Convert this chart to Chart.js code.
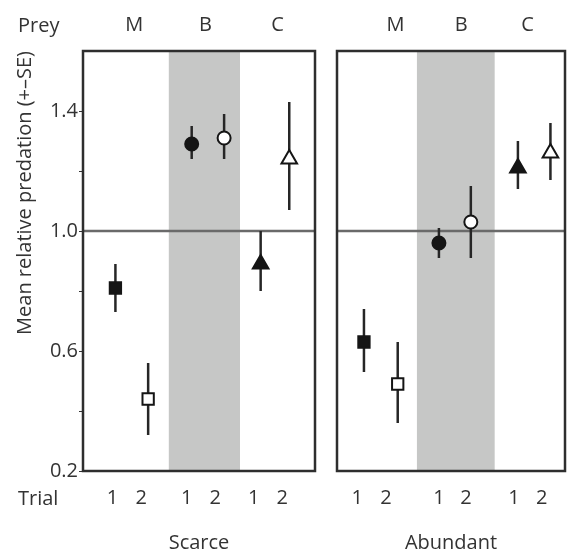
<!DOCTYPE html>
<html>
<head>
<meta charset="utf-8">
<script src="https://cdn.jsdelivr.net/npm/chart.js@4.4.1/dist/chart.umd.min.js"></script>
<style>
  body { margin: 0; width: 569px; height: 555px; overflow: hidden; background: #fff; position: relative; font-family: "Open Sans", sans-serif; }
  .panel { position: absolute; top: 0; height: 555px; }
  #left { left: 0; width: 326px; }
  #right { left: 326px; width: 250px; }
  .lab { position: absolute; font-size: 20px; color: #333; line-height: 24px; }
</style>
</head>
<body>
<div class="panel" id="left"><canvas id="scarce"></canvas></div>
<div class="panel" id="right"><canvas id="abundant"></canvas></div>
<div class="lab" style="left:18px; top:13px;">Prey</div>
<div class="lab" style="left:18px; top:486px;">Trial</div>

<script>
// prey groups and trials
const groups = ['M', 'B', 'C'];
const trials = ['1', '2', '1', '2', '1', '2'];

// scarce panel: mean and SE range
const scarceMean = [0.81, 0.44, 1.29, 1.31, 0.89, 1.24];
const scarceLow  = [0.73, 0.32, 1.24, 1.24, 0.80, 1.07];
const scarceHigh = [0.89, 0.56, 1.35, 1.39, 1.00, 1.43];

// abundant panel
const abundantMean = [0.63, 0.49, 0.96, 1.03, 1.21, 1.26];
const abundantLow  = [0.53, 0.36, 0.91, 0.91, 1.14, 1.17];
const abundantHigh = [0.74, 0.63, 1.01, 1.15, 1.30, 1.36];

// x axis values (trial slots) per panel
const scarceX = [1.02, 2.05, 3.42, 4.44, 5.59, 6.49];
const abundantX = [0.87, 1.96, 3.29, 4.32, 5.84, 6.89];
const scarceTrialTicks = [0.93, 1.83, 3.26, 4.16, 5.37, 6.27];
const abundantTrialTicks = [0.65, 1.58, 3.29, 4.16, 5.71, 6.61];
const scarceGroupTicks = [1.61, 3.85, 6.12];
const abundantGroupTicks = [1.89, 4.01, 6.15];
const scarceBand = [2.70, 4.94];
const abundantBand = [2.58, 5.09];

const yTicks = [0.2, 0.4, 0.6, 0.8, 1.0, 1.2, 1.4];
const yLabels = ['0.2', '', '0.6', '', '1.0', '', '1.4'];

const fillColors = ['#151515', '#fff', '#151515', '#fff', '#151515', '#fff'];
const shapes = ['rect', 'rect', 'circle', 'circle', 'triangle', 'triangle'];
const sizes = [8, 8, 6.5, 6.5, 9, 9];

const textColor = '#333';
const font = { family: '"Open Sans", sans-serif', size: 20 };

const panelDecor = {
    id: 'panelDecor',
    beforeDatasetsDraw(chart, args, opts) {
        const { ctx, chartArea: a, scales: { x, y } } = chart;
        ctx.save();
        // shaded B column
        const b0 = x.getPixelForValue(opts.band[0]);
        const b1 = x.getPixelForValue(opts.band[1]);
        ctx.fillStyle = '#c6c7c6';
        ctx.fillRect(b0, a.top, b1 - b0, a.bottom - a.top);

        // reference line at 1.0
        const yRef = y.getPixelForValue(1.0);
        ctx.strokeStyle = '#6a6a6a';
        ctx.lineWidth = 2.5;
        ctx.beginPath();
        ctx.moveTo(a.left, yRef);
        ctx.lineTo(a.right, yRef);
        ctx.stroke();

        // SE bars
        ctx.strokeStyle = '#262626';
        ctx.lineWidth = 2.5;
        opts.xs.forEach((xv, i) => {
            const px = x.getPixelForValue(xv);
            ctx.beginPath();
            ctx.moveTo(px, y.getPixelForValue(opts.low[i]));
            ctx.lineTo(px, y.getPixelForValue(opts.high[i]));
            ctx.stroke();
        });

        // frame
        ctx.strokeStyle = '#2e2e2e';
        ctx.lineWidth = 2.5;
        ctx.strokeRect(a.left, a.top, a.right - a.left, a.bottom - a.top);
        ctx.restore();
    }
};

function makePanel(id, cfg) {
    const ctx = document.getElementById(id).getContext('2d');
    return new Chart(ctx, {
        type: 'scatter',
        data: {
            datasets: [{
                data: cfg.xs.map((xv, i) => ({ x: xv, y: cfg.mean[i] })),
                pointStyle: shapes,
                pointRadius: sizes,
                pointHoverRadius: sizes,
                backgroundColor: fillColors,
                borderColor: '#151515',
                borderWidth: 2,
            }],
        },
        options: {
            responsive: true,
            maintainAspectRatio: false,
            animation: false,
            layout: { padding: { left: 0, right: cfg.padRight, top: 0, bottom: 0 } },
            plugins: {
                legend: { display: false },
                tooltip: { enabled: false },
                panelDecor: { band: cfg.band, low: cfg.low, high: cfg.high, xs: cfg.xs },
            },
            scales: {
                x: {
                    type: 'linear',
                    position: 'bottom',
                    min: 0,
                    max: cfg.xMax,
                    grid: { display: false, drawTicks: false },
                    border: { display: false },
                    afterBuildTicks: s => { s.ticks = cfg.trialTicks.map(v => ({ value: v })); },
                    ticks: {
                        callback: (v, i) => trials[i],
                        font: font,
                        color: textColor,
                        padding: 15,
                        maxRotation: 0,
                        autoSkip: false,
                    },
                    title: {
                        display: true,
                        text: cfg.title,
                        font: font,
                        color: textColor,
                        padding: { top: 0, bottom: 0 },
                    },
                    afterFit: s => { s.height = 84; },
                },
                top: {
                    type: 'linear',
                    position: 'top',
                    min: 0,
                    max: cfg.xMax,
                    grid: { display: false, drawTicks: false },
                    border: { display: false },
                    afterBuildTicks: s => { s.ticks = cfg.groupTicks.map(v => ({ value: v })); },
                    ticks: {
                        callback: (v, i) => groups[i],
                        font: font,
                        color: textColor,
                        padding: 14,
                        maxRotation: 0,
                        autoSkip: false,
                    },
                    afterFit: s => { s.height = 51; },
                },
                y: {
                    min: 0.2,
                    max: 1.6,
                    grid: {
                        display: cfg.showY,
                        drawOnChartArea: false,
                        drawTicks: true,
                        tickLength: 4,
                        color: '#333',
                    },
                    border: { display: false },
                    afterBuildTicks: s => { s.ticks = yTicks.map(v => ({ value: v })); },
                    ticks: {
                        display: cfg.showY,
                        callback: (v, i) => yLabels[i],
                        font: font,
                        color: textColor,
                        padding: 1,
                    },
                    title: {
                        display: cfg.showY,
                        text: 'Mean relative predation (+–SE)',
                        align: 'end',
                        font: font,
                        color: textColor,
                        padding: { top: 13, bottom: 0 },
                    },
                    afterFit: s => { s.width = cfg.yWidth; },
                },
            },
        },
        plugins: [panelDecor],
    });
}

makePanel('scarce', {
    xs: scarceX, mean: scarceMean, low: scarceLow, high: scarceHigh,
    trialTicks: scarceTrialTicks, groupTicks: scarceGroupTicks, band: scarceBand,
    title: 'Scarce', xMax: 7.3, padRight: 8, yWidth: 83, showY: true,
});

makePanel('abundant', {
    xs: abundantX, mean: abundantMean, low: abundantLow, high: abundantHigh,
    trialTicks: abundantTrialTicks, groupTicks: abundantGroupTicks, band: abundantBand,
    title: 'Abundant', xMax: 7.36, padRight: 5, yWidth: 8, showY: false,
});
</script>
</body>
</html>
